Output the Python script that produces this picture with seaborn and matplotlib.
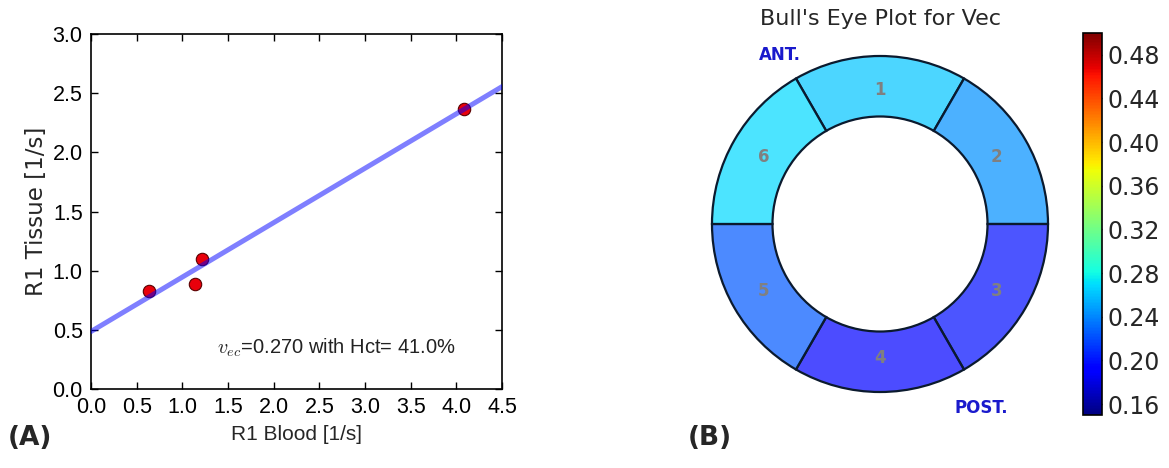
import numpy as np
import pandas as pd
import matplotlib
matplotlib.use("Agg")
import matplotlib.pyplot as plt
import seaborn as sns
from matplotlib import cm, colors as mcolors

# ---------------- data ----------------
r1_blood = [0.63, 1.14, 1.21, 4.08]
r1_tissue = [0.83, 0.89, 1.10, 2.37]
x_ticks = [0.0, 0.5, 1.0, 1.5, 2.0, 2.5, 3.0, 3.5, 4.0, 4.5]
y_ticks = [0.0, 0.5, 1.0, 1.5, 2.0, 2.5, 3.0]
annot_text = r"$v_{ec}$=0.270 with Hct= 41.0%"

segments = ["1", "2", "3", "4", "5", "6"]
segment_angle_deg = [90, 30, -30, -90, -150, 150]
segment_vec = [0.262, 0.243, 0.198, 0.190, 0.225, 0.268]
cbar_ticks = [0.16, 0.20, 0.24, 0.28, 0.32, 0.36, 0.40, 0.44, 0.48]
vmin, vmax = 0.15, 0.50

# ---------------- style ----------------
sns.set_style("ticks")
plt.rcParams["font.family"] = ["DejaVu Sans"]
plt.rcParams["mathtext.fontset"] = "cm"
NARROW = ["Liberation Sans", "DejaVu Sans"]

fig = plt.figure(figsize=(11.69, 4.68), dpi=100)
fig.patch.set_facecolor("white")

# ---------------- panel A ----------------
ax = fig.add_axes([91 / 1169, 1 - 389 / 468, 411 / 1169, 355 / 468])
df = pd.DataFrame({"blood": r1_blood, "tissue": r1_tissue})
ax.set_xlim(0, 4.5)
ax.set_ylim(0, 3.0)
sns.scatterplot(data=df, x="blood", y="tissue", ax=ax, color="#e8000b",
                edgecolor="#5a0000", linewidth=0.8, s=80, zorder=3)
sns.regplot(data=df, x="blood", y="tissue", ax=ax, scatter=False, ci=None,
            truncate=False,
            line_kws=dict(color="blue", alpha=0.5, lw=3.6, zorder=4))
ax.set_xlim(0, 4.5)
ax.set_ylim(0, 3.0)
ax.set_xticks(x_ticks)
ax.set_yticks(y_ticks)
ax.set_xticklabels([f"{v:.1f}" for v in x_ticks])
ax.set_yticklabels([f"{v:.1f}" for v in y_ticks])
ax.tick_params(direction="in", length=5, width=1, top=True, right=True,
               labelsize=15.5, pad=6, colors="black")
for lbl in ax.get_xticklabels() + ax.get_yticklabels():
    lbl.set_family(NARROW)
for sp in ax.spines.values():
    sp.set_visible(True)
    sp.set_linewidth(1.2)
    sp.set_color("black")
ax.set_xlabel("R1 Blood [1/s]", fontsize=15, family=NARROW)
ax.set_ylabel("R1 Tissue [1/s]", fontsize=16.5)
ax.xaxis.set_label_coords(0.5, -0.1)
ax.yaxis.set_label_coords(-0.105, 0.5)
ax.text(1.38, 0.35, annot_text, fontsize=14.5, va="center", ha="left",
        color="#222222", family=NARROW)

fig.text(8 / 1169, 1 - 438 / 468, "(A)", fontsize=19, fontweight="bold",
         va="center", ha="left")
fig.text(688 / 1169, 1 - 438 / 468, "(B)", fontsize=19, fontweight="bold",
         va="center", ha="left")

# ---------------- panel B ----------------
R = 168
cx, cy = 880, 224
pax = fig.add_axes([(cx - R) / 1169, 1 - (cy + R) / 468, 2 * R / 1169,
                    2 * R / 468], projection="polar")
cmap = plt.get_cmap("jet")
norm = mcolors.Normalize(vmin=vmin, vmax=vmax)
inner = 0.64
face = []
for v in segment_vec:
    r, g, b, _ = cmap(norm(v))
    face.append((r, g, b, 0.7))
theta = np.deg2rad(segment_angle_deg)
bars = pax.bar(theta, [1 - inner] * len(theta), width=np.deg2rad(60),
               bottom=inner, color=face, edgecolor="#0b1a2e", linewidth=1.6,
               align="center")
for b in bars:
    b.set_clip_on(False)
pax.set_ylim(0, 1.0)
pax.set_axis_off()
for lab, ang in zip(segments, theta):
    pax.text(ang, 0.80, lab, ha="center", va="center", fontsize=12,
             fontweight="bold", color="#808080")

fig.text(cx / 1169, 1 - 19 / 468, "Bull's Eye Plot for Vec", ha="center",
         va="center", fontsize=16)
fig.text(780 / 1169, 1 - 55 / 468, "ANT.", ha="center", va="center",
         fontsize=12, fontweight="bold", color="#1a1acc")
fig.text(981 / 1169, 1 - 408 / 468, "POST.", ha="center", va="center",
         fontsize=12, fontweight="bold", color="#1a1acc")

cax = fig.add_axes([1083 / 1169, 1 - 415 / 468, 19 / 1169, 382 / 468])
sm = cm.ScalarMappable(norm=norm, cmap=cmap)
cb = fig.colorbar(sm, cax=cax, ticks=cbar_ticks)
cb.ax.set_yticklabels([f"{t:.2f}" for t in cbar_ticks])
cb.ax.tick_params(direction="in", length=5, width=1, labelsize=17, pad=4)
cb.outline.set_linewidth(1.2)
cb.outline.set_edgecolor("black")

fig.savefig("out.png", dpi=100, facecolor="white")
